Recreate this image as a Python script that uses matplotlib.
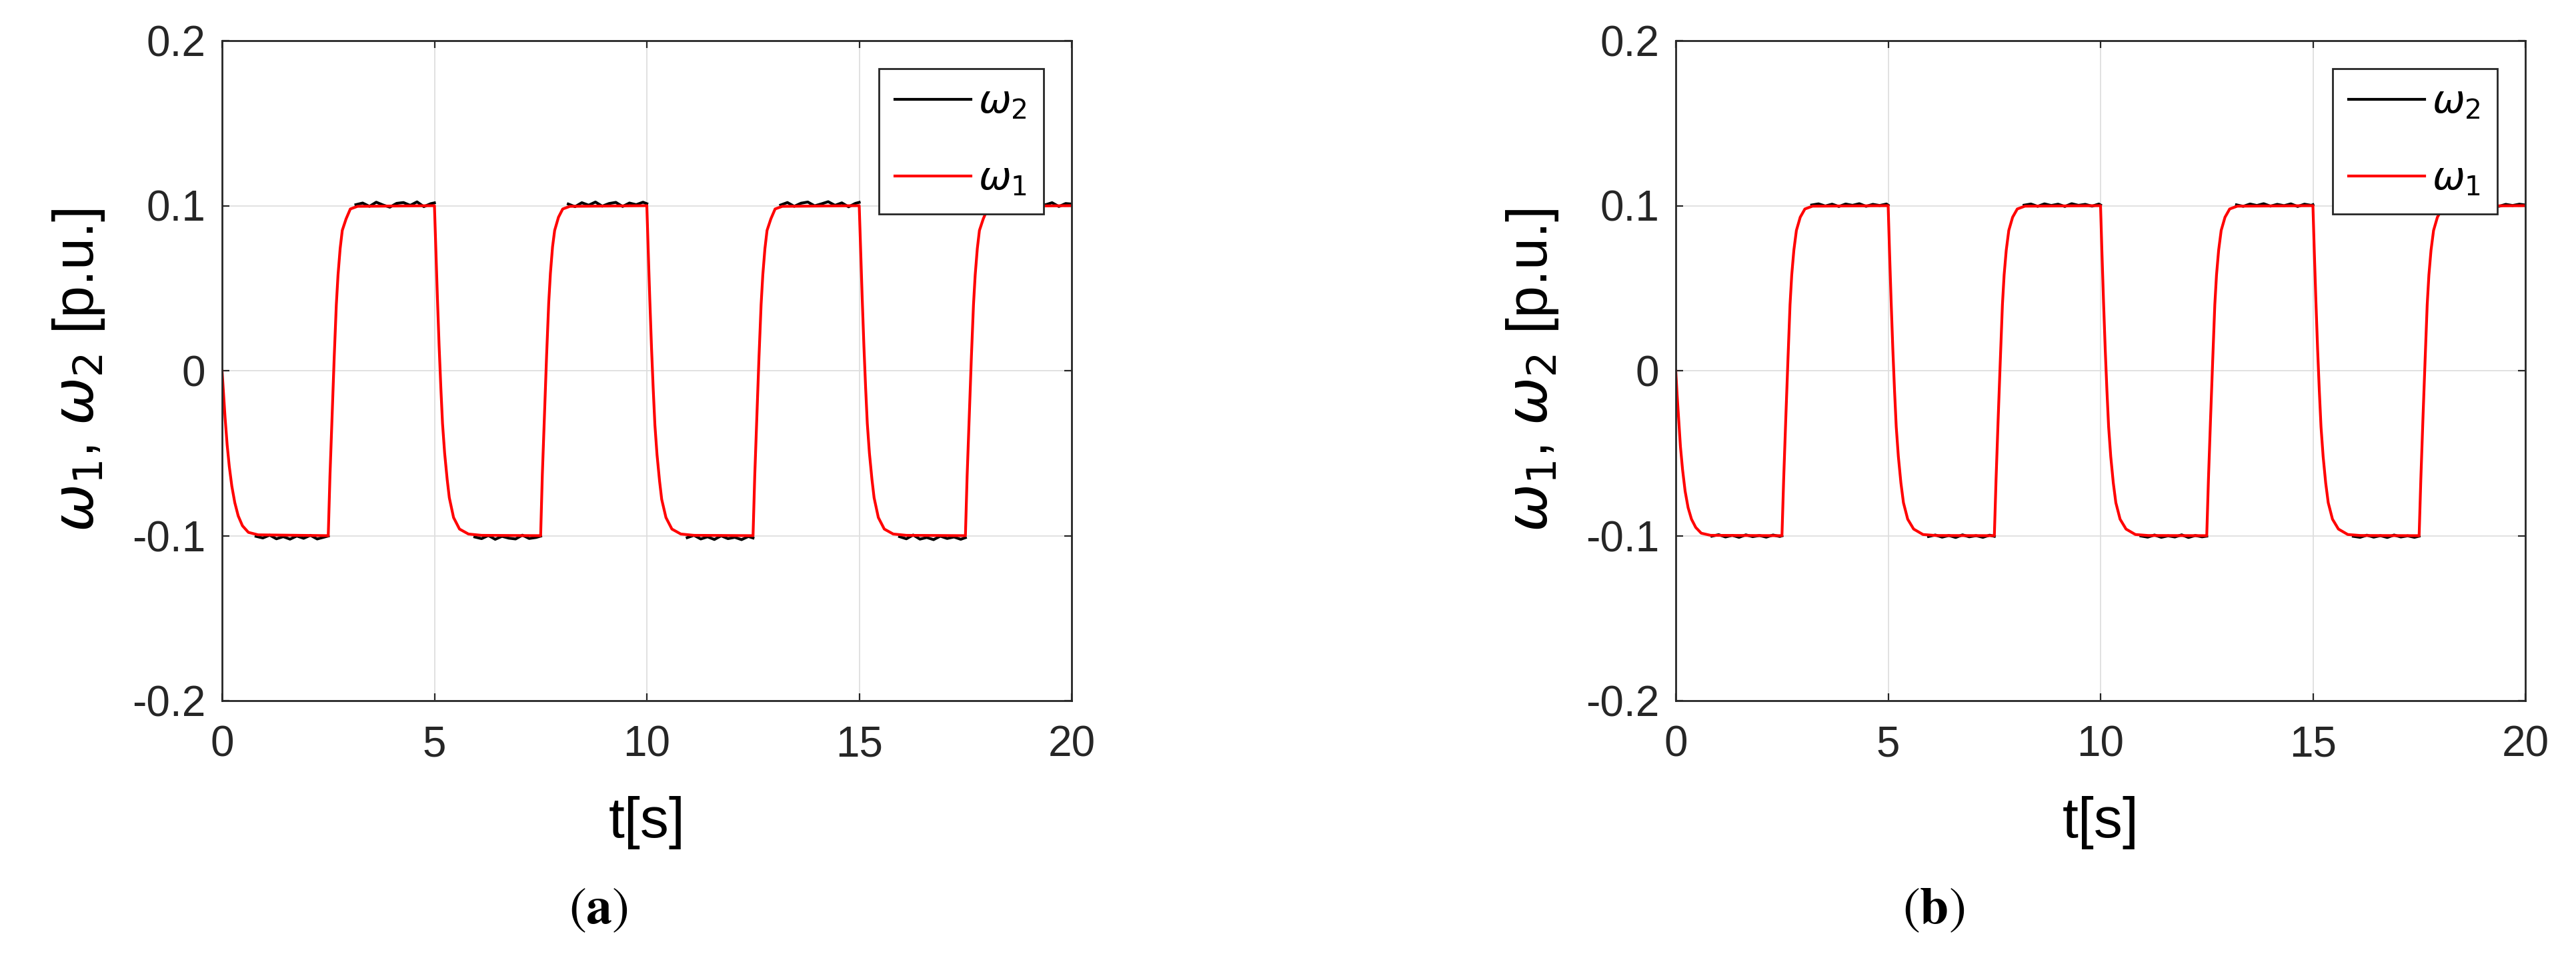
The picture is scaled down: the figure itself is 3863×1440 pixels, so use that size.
import numpy as np
import matplotlib
matplotlib.use('Agg')
import matplotlib.pyplot as plt

plt.rcParams['font.family'] = ['Liberation Sans', 'DejaVu Sans']
plt.rcParams['mathtext.fontset'] = 'dejavusans'

# ---- panel (a): omega_1 (red) ----
t_w1_a = [0, 0.03, 0.07, 0.12, 0.17, 0.23, 0.30, 0.38, 0.48, 0.62, 0.85, 2.50,
          2.54, 2.59, 2.64, 2.69, 2.73, 2.78, 2.83, 2.92, 3.02, 3.19, 5.00,
          5.03, 5.07, 5.11, 5.15, 5.19, 5.24, 5.30, 5.35, 5.45, 5.59, 5.80, 6.11, 7.50,
          7.54, 7.59, 7.64, 7.69, 7.73, 7.78, 7.83, 7.92, 8.02, 8.19, 10.00,
          10.03, 10.07, 10.11, 10.15, 10.19, 10.24, 10.30, 10.35, 10.45, 10.59, 10.80, 11.11, 12.50,
          12.54, 12.59, 12.64, 12.69, 12.73, 12.78, 12.83, 12.92, 13.02, 13.19, 15.00,
          15.03, 15.07, 15.11, 15.15, 15.19, 15.24, 15.30, 15.35, 15.45, 15.59, 15.80, 16.11, 17.50,
          17.54, 17.59, 17.64, 17.69, 17.73, 17.78, 17.83, 17.92, 18.02, 18.19, 20.00]
w1_a = [0, -0.012, -0.028, -0.045, -0.058, -0.070, -0.080, -0.088, -0.094, -0.098, -0.0995, -0.100,
        -0.064, -0.028, 0.008, 0.040, 0.058, 0.074, 0.085, 0.092, 0.098, 0.0996, 0.100,
        0.076, 0.044, 0.015, -0.010, -0.032, -0.050, -0.066, -0.077, -0.089, -0.096, -0.099, -0.0998, -0.100,
        -0.063, -0.027, 0.009, 0.041, 0.059, 0.075, 0.085, 0.093, 0.098, 0.0996, 0.100,
        0.075, 0.043, 0.014, -0.011, -0.033, -0.051, -0.067, -0.078, -0.089, -0.096, -0.099, -0.0998, -0.100,
        -0.064, -0.028, 0.008, 0.040, 0.058, 0.074, 0.085, 0.092, 0.098, 0.0996, 0.100,
        0.076, 0.044, 0.015, -0.010, -0.032, -0.050, -0.066, -0.077, -0.089, -0.096, -0.099, -0.0998, -0.100,
        -0.064, -0.028, 0.008, 0.040, 0.058, 0.074, 0.085, 0.092, 0.098, 0.0996, 0.100]

# omega_2 (black) on the plateaus, None = hidden under the red transitions
t_w2_a = [0.80, 0.96, 1.12, 1.28, 1.44, 1.60, 1.76, 1.92, 2.08, 2.24, 2.40, 2.50, 2.51,
          3.15, 3.31, 3.47, 3.63, 3.79, 3.95, 4.11, 4.27, 4.43, 4.59, 4.75, 4.91, 5.00, 5.01,
          5.95, 6.11, 6.27, 6.43, 6.59, 6.75, 6.91, 7.07, 7.23, 7.39, 7.50, 7.51,
          8.15, 8.31, 8.47, 8.63, 8.79, 8.95, 9.11, 9.27, 9.43, 9.59, 9.75, 9.91, 10.00, 10.01,
          10.95, 11.11, 11.27, 11.43, 11.59, 11.75, 11.91, 12.07, 12.23, 12.39, 12.50, 12.51,
          13.15, 13.31, 13.47, 13.63, 13.79, 13.95, 14.11, 14.27, 14.43, 14.59, 14.75, 14.91, 15.00, 15.01,
          15.95, 16.11, 16.27, 16.43, 16.59, 16.75, 16.91, 17.07, 17.23, 17.39, 17.50, 17.51,
          18.40, 18.58, 18.74, 18.90, 19.06, 19.22, 19.38, 19.54, 19.70, 19.86, 20.00]
w2_a = [-0.1004, -0.1014, -0.0997, -0.1019, -0.1006, -0.1021, -0.1002, -0.1016, -0.0998, -0.1020, -0.1009, -0.1002, None,
        0.1006, 0.1016, 0.0996, 0.1021, 0.1004, 0.0991, 0.1014, 0.1019, 0.1002, 0.1023, 0.0994, 0.1012, 0.1017, None,
        -0.1008, -0.1018, -0.0999, -0.1022, -0.1004, -0.1015, -0.1020, -0.0997, -0.1017, -0.1011, -0.1003, None,
        0.1010, 0.0994, 0.1018, 0.1003, 0.1022, 0.0997, 0.1013, 0.1020, 0.0995, 0.1016, 0.1006, 0.1021, 0.1012, None,
        -0.1012, -0.0998, -0.1020, -0.1007, -0.1023, -0.1001, -0.1018, -0.1010, -0.1024, -0.1005, -0.1014, None,
        0.1004, 0.1019, 0.0996, 0.1015, 0.1022, 0.0999, 0.1011, 0.1024, 0.1002, 0.1017, 0.0993, 0.1014, 0.1020, None,
        -0.1006, -0.1019, -0.0996, -0.1021, -0.1011, -0.1024, -0.1003, -0.1017, -0.1008, -0.1022, -0.1012, None,
        0.1005, 0.1014, 0.1008, 0.1017, 0.0997, 0.1020, 0.1005, 0.1018, 0.0995, 0.1013, 0.1010]

# ---- panel (b) ----
t_w1_b = [0, 0.03, 0.07, 0.11, 0.16, 0.22, 0.29, 0.37, 0.47, 0.60, 0.82, 2.50,
          2.54, 2.59, 2.64, 2.69, 2.73, 2.78, 2.84, 2.93, 3.04, 3.22, 5.00,
          5.03, 5.07, 5.11, 5.15, 5.19, 5.24, 5.30, 5.36, 5.46, 5.60, 5.82, 6.12, 7.50,
          7.54, 7.59, 7.64, 7.69, 7.73, 7.78, 7.84, 7.93, 8.04, 8.22, 10.00,
          10.03, 10.07, 10.11, 10.15, 10.19, 10.24, 10.30, 10.36, 10.46, 10.60, 10.82, 11.12, 12.50,
          12.54, 12.59, 12.64, 12.69, 12.73, 12.78, 12.84, 12.93, 13.04, 13.22, 15.00,
          15.03, 15.07, 15.11, 15.15, 15.19, 15.24, 15.30, 15.36, 15.46, 15.60, 15.82, 16.12, 17.50,
          17.54, 17.59, 17.64, 17.69, 17.73, 17.78, 17.84, 17.93, 18.04, 18.22, 20.00]
w1_b = [0, -0.014, -0.030, -0.046, -0.060, -0.073, -0.083, -0.090, -0.095, -0.0985, -0.0998, -0.100,
        -0.066, -0.029, 0.006, 0.040, 0.058, 0.073, 0.085, 0.093, 0.098, 0.0997, 0.100,
        0.074, 0.042, 0.013, -0.012, -0.034, -0.052, -0.068, -0.080, -0.090, -0.096, -0.0993, -0.0999, -0.100,
        -0.066, -0.029, 0.006, 0.040, 0.058, 0.073, 0.085, 0.093, 0.098, 0.0997, 0.100,
        0.074, 0.042, 0.013, -0.012, -0.034, -0.052, -0.068, -0.080, -0.090, -0.096, -0.0993, -0.0999, -0.100,
        -0.066, -0.029, 0.006, 0.040, 0.058, 0.073, 0.085, 0.093, 0.098, 0.0997, 0.100,
        0.074, 0.042, 0.013, -0.012, -0.034, -0.052, -0.068, -0.080, -0.090, -0.096, -0.0993, -0.0999, -0.100,
        -0.066, -0.029, 0.006, 0.040, 0.058, 0.073, 0.085, 0.093, 0.098, 0.0997, 0.100]

t_w2_b = [0.85, 1.01, 1.17, 1.33, 1.49, 1.65, 1.81, 1.97, 2.13, 2.29, 2.45, 2.50, 2.51,
          3.20, 3.36, 3.52, 3.68, 3.84, 4.00, 4.16, 4.32, 4.48, 4.64, 4.80, 4.96, 5.00, 5.01,
          5.95, 6.11, 6.27, 6.43, 6.59, 6.75, 6.91, 7.07, 7.23, 7.39, 7.50, 7.51,
          8.20, 8.36, 8.52, 8.68, 8.84, 9.00, 9.16, 9.32, 9.48, 9.64, 9.80, 9.96, 10.00, 10.01,
          10.95, 11.11, 11.27, 11.43, 11.59, 11.75, 11.91, 12.07, 12.23, 12.39, 12.50, 12.51,
          13.20, 13.36, 13.52, 13.68, 13.84, 14.00, 14.16, 14.32, 14.48, 14.64, 14.80, 14.96, 15.00, 15.01,
          15.95, 16.11, 16.27, 16.43, 16.59, 16.75, 16.91, 17.07, 17.23, 17.39, 17.50, 17.51,
          18.40, 18.58, 18.74, 18.90, 19.06, 19.22, 19.38, 19.54, 19.70, 19.86, 20.00]
w2_b = [-0.1003, -0.0994, -0.1008, -0.0998, -0.1010, -0.0995, -0.1006, -0.0999, -0.1009, -0.0996, -0.1005, -0.1001, None,
        0.1004, 0.1011, 0.0998, 0.1009, 0.0995, 0.1010, 0.1002, 0.1012, 0.0996, 0.1008, 0.1001, 0.1010, 0.1003, None,
        -0.1005, -0.0996, -0.1009, -0.0999, -0.1011, -0.0995, -0.1007, -0.1000, -0.1010, -0.0997, -0.1004, None,
        0.1003, 0.1010, 0.0996, 0.1011, 0.1001, 0.1009, 0.0995, 0.1012, 0.1002, 0.1008, 0.0997, 0.1010, 0.1004, None,
        -0.1002, -0.1009, -0.0996, -0.1010, -0.1001, -0.1008, -0.0995, -0.1011, -0.0999, -0.1007, -0.1003, None,
        0.1005, 0.0996, 0.1010, 0.1001, 0.1012, 0.0997, 0.1008, 0.1000, 0.1011, 0.0995, 0.1009, 0.1002, 0.1006, None,
        -0.1004, -0.1010, -0.0997, -0.1009, -0.1000, -0.1011, -0.0996, -0.1008, -0.1001, -0.1010, -0.1003, None,
        0.1004, 0.1009, 0.0997, 0.1010, 0.1002, 0.1011, 0.0996, 0.1008, 0.1001, 0.1009, 0.1004]

xticks = [0, 5, 10, 15, 20]
yticks = [-0.2, -0.1, 0, 0.1, 0.2]
ytick_labels = ['-0.2', '-0.1', '0', '0.1', '0.2']
captions = ['a', 'b']

W, H = 3863, 1440
fig = plt.figure(figsize=(W / 100, H / 100), dpi=100)

axes_left = [333, 2513]
ax_w, ax_top, ax_bot = 1274, 61, 1051
caption_x = [897, 2900]
dark = '#262626'

panels = [(t_w1_a, w1_a, t_w2_a, w2_a), (t_w1_b, w1_b, t_w2_b, w2_b)]
for i, (t1, w1, t2, w2) in enumerate(panels):
    ax = fig.add_axes([axes_left[i] / W, 1 - ax_bot / H, ax_w / W, (ax_bot - ax_top) / H])
    l2, = ax.plot(t2, np.array(w2, dtype=float), color='black', lw=3.0, label=r'$\omega_2$')
    l1, = ax.plot(t1, w1, color='#ff0000', lw=3.0, label=r'$\omega_1$')
    ax.set_xlim(0, 20)
    ax.set_ylim(-0.2, 0.2)
    ax.set_xticks(xticks)
    ax.set_yticks(yticks)
    ax.set_yticklabels(ytick_labels)
    ax.grid(True, color='#dedede', lw=1.3)
    ax.set_axisbelow(True)
    for s in ax.spines.values():
        s.set_color(dark)
        s.set_linewidth(2.0)
    ax.tick_params(direction='in', length=8, width=1.6, colors=dark,
                   top=True, right=True, labelsize=46)
    ax.tick_params(axis='x', pad=26)
    ax.tick_params(axis='y', pad=18)
    ax.set_xlabel('t[s]', fontsize=62, color='black', va='center')
    ax.xaxis.set_label_coords(0.5, -0.185)
    ax.set_ylabel(r'$\omega_1$, $\omega_2$ [p.u.]', fontsize=62, color='black', va='center')
    ax.yaxis.set_label_coords(-0.169, 0.5)
    leg = ax.legend(handles=[l2, l1], loc='upper right', fontsize=42,
                    handlelength=1.95, handletextpad=0.2, labelspacing=1.05,
                    borderpad=0.42, borderaxespad=0.72, fancybox=False,
                    framealpha=1, edgecolor=dark)
    leg.get_frame().set_linewidth(2.0)
    fig.text(caption_x[i] / W, 1 - 1365 / H, r'$(\mathbf{%s})$' % captions[i],
             fontsize=56, ha='center', va='center', math_fontfamily='stix')

fig.savefig('out.png', dpi=100)
